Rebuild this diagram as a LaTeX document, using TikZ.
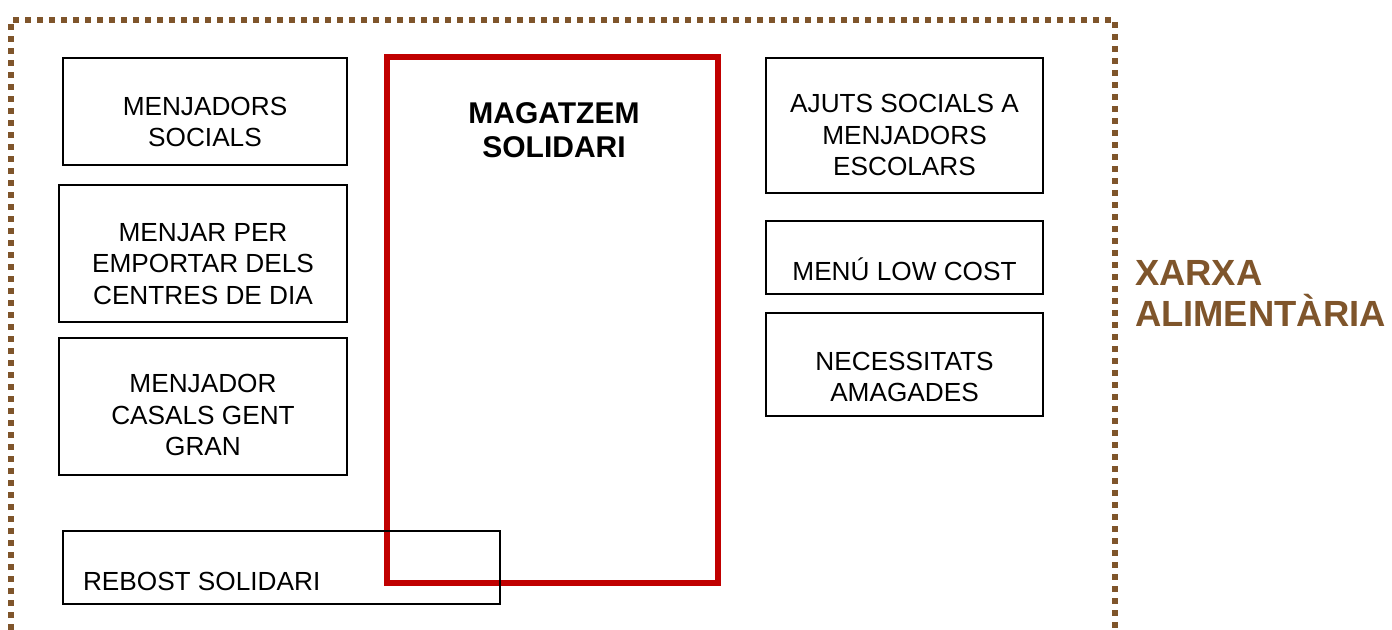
\documentclass[tikz,border=0pt]{standalone}
\usepackage{fontspec}
\setmainfont{Liberation Sans}
\usetikzlibrary{calc}
\usetikzlibrary{positioning}
\definecolor{xarxabrown}{RGB}{127,85,43}
\definecolor{magatzemred}{RGB}{192,0,0}

\begin{document}
\begin{tikzpicture}[x=0.5pt, y=-0.5pt,
  every node/.style={outer sep=0pt, inner sep=0pt},
  box/.style={draw=black, line width=1.1pt, anchor=north west},
  leftbox/.style={box, minimum width=144pt, minimum height=68.5pt},
  rightbox/.style={box, minimum width=138.5pt},
  boxtext/.style={align=center, font=\fontsize{13.1}{15.8}\selectfont}]
  \useasboundingbox (0,0) rectangle (1392,630);

  % border of the network
  \draw[xarxabrown, line width=3pt, dash pattern=on 3pt off 3pt]
    (11,630) -- (11,20) -- (1115,20) -- (1115,630);

  % the store in the middle
  \node[draw=magatzemred, line width=3pt, anchor=north west,
        minimum width=165.75pt, minimum height=263pt] (magatzem) at (386.5,57) {};
  \node[align=center, font=\bfseries\fontsize{15}{17}\selectfont] (magatzem-t) at (554,130)
    {MAGATZEM\\SOLIDARI};

  % left column
  \node[box, minimum width=142pt, minimum height=53.5pt] (menjadors) at (63,58) {};
  \node[boxtext] (menjadors-t) at (205,122) {MENJADORS\\SOCIALS};
  \node[leftbox] (emportar) at (59,185) {};
  \node[boxtext] (emportar-t) at (203,264) {MENJAR PER\\EMPORTAR DELS\\CENTRES DE DIA};
  \node[leftbox] (casals) at (59,338) {};
  \node[boxtext] (casals-t) at (203,415) {MENJADOR\\CASALS GENT\\GRAN};

  % right column
  \node[rightbox, minimum height=67.5pt] (ajuts) at (766,58) {};
  \node[boxtext] (ajuts-t) at (904.5,135) {AJUTS SOCIALS A\\MENJADORS\\ESCOLARS};
  \node[rightbox, minimum height=36.5pt] (lowcost) at (766,221) {};
  \node[boxtext] (lowcost-t) at (904.5,269) {MENÚ LOW COST};
  \node[rightbox, minimum height=51.5pt] (amagades) at (766,313) {};
  \node[boxtext] (amagades-t) at (904.5,377) {NECESSITATS\\AMAGADES};

  \node[box, minimum width=218.5pt, minimum height=36.5pt] (rebost) at (63,531) {};
  \node[boxtext, anchor=west] (rebost-t) at (83,581) {REBOST SOLIDARI};

  \node[anchor=west, align=left, text=xarxabrown,
        font=\bfseries\fontsize{18.2}{20.5}\selectfont] (xarxa) at (1135,293)
    {XARXA\\ALIMENTÀRIA};
\end{tikzpicture}
\end{document}
